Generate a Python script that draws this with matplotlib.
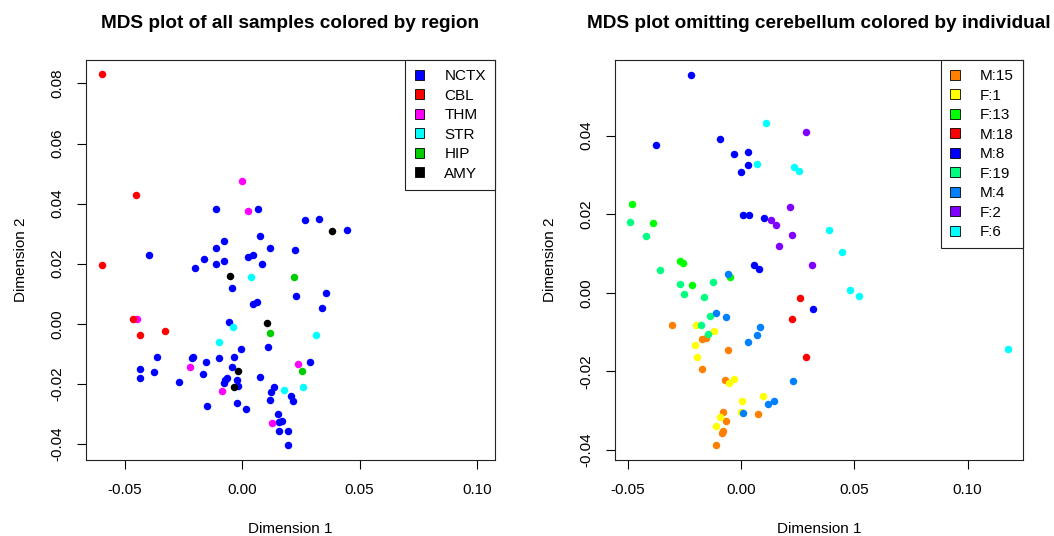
import matplotlib
matplotlib.use("Agg")
import matplotlib.pyplot as plt
from matplotlib.patches import Patch
from matplotlib.ticker import FixedLocator, FormatStrFormatter

plt.rcParams['font.family'] = ['Liberation Sans', 'DejaVu Sans']
plt.rcParams['axes.unicode_minus'] = False

# MDS coordinates (dimension 1, dimension 2), all samples, by brain region
nctx = [(-0.0112, 0.0381), (0.0068, 0.0381), (-0.0078, 0.0277), (0.0075, 0.0293),
        (-0.0112, 0.0253), (0.0119, 0.0251), (0.0225, 0.0247), (-0.0398, 0.0229),
        (-0.0165, 0.0215), (-0.0202, 0.0187), (-0.0111, 0.0198), (-0.0078, 0.0210),
        (0.0023, 0.0222), (0.0044, 0.0230), (0.0083, 0.0199), (0.0266, 0.0344),
        (0.0326, 0.0349), (0.0445, 0.0313), (-0.0045, 0.0119), (0.0228, 0.0092),
        (0.0044, 0.0067), (0.0064, 0.0072), (0.0358, 0.0101), (0.0338, 0.0052),
        (-0.0057, 0.0005), (0.0108, -0.0076), (-0.0004, -0.0083), (0.0289, -0.0127),
        (-0.0364, -0.0110), (-0.0210, -0.0110), (-0.0216, -0.0115), (-0.0156, -0.0126),
        (-0.0101, -0.0115), (-0.0037, -0.0110), (-0.0435, -0.0150), (-0.0435, -0.0182),
        (-0.0375, -0.0159), (-0.0168, -0.0166), (-0.0045, -0.0143), (-0.0269, -0.0193),
        (-0.0066, -0.0180), (-0.0072, -0.0188), (-0.0078, -0.0197), (-0.0023, -0.0188),
        (-0.0017, -0.0206), (0.0075, -0.0176), (0.0135, -0.0209), (0.0122, -0.0228),
        (0.0119, -0.0253), (0.0208, -0.0241), (0.0215, -0.0258), (-0.0149, -0.0273),
        (-0.0024, -0.0265), (0.0016, -0.0285), (0.0151, -0.0299), (0.0158, -0.0327),
        (0.0171, -0.0325), (0.0156, -0.0356), (0.0195, -0.0356), (0.0195, -0.0405)]
cbl = [(-0.0599, 0.0830), (-0.0453, 0.0428), (-0.0599, 0.0197), (-0.0464, 0.0017),
       (-0.0435, -0.0037), (-0.0328, -0.0023)]
thm = [(-0.0003, 0.0474), (0.0023, 0.0375), (-0.0450, 0.0017), (-0.0222, -0.0143),
       (-0.0088, -0.0223), (0.0128, -0.0329), (0.0237, -0.0135)]
stri = [(0.0038, 0.0155), (-0.0038, -0.0011), (-0.0098, -0.0062), (0.0316, -0.0037),
        (0.0178, -0.0219), (0.0260, -0.0211)]
hip = [(0.0222, 0.0155), (0.0117, -0.0030), (0.0253, -0.0157)]
amy = [(0.0384, 0.0308), (-0.0051, 0.0159), (0.0104, 0.0001), (-0.0017, -0.0157),
       (-0.0037, -0.0210)]

region_names = ["NCTX", "CBL", "THM", "STR", "HIP", "AMY"]
region_points = [nctx, cbl, thm, stri, hip, amy]
region_colors = ["#0000FF", "#FF0000", "#FF00FF", "#00FFFF", "#00CD00", "#000000"]
region_order = [0, 2, 3, 4, 5, 1]

# MDS coordinates without cerebellum, by individual
m15 = [(-0.0303, -0.0081), (-0.0171, -0.0118), (-0.0154, -0.0115), (-0.0059, -0.0146),
       (-0.0173, -0.0193), (-0.0072, -0.0223), (0.0076, -0.0308), (-0.0079, -0.0302),
       (-0.0065, -0.0325), (-0.0085, -0.0357), (-0.0078, -0.0352), (-0.0112, -0.0386)]
f1 = [(-0.0199, -0.0083), (-0.0118, -0.0097), (-0.0204, -0.0132), (-0.0196, -0.0163),
      (-0.0052, -0.0229), (-0.0030, -0.0218), (0.0004, -0.0274), (0.0097, -0.0263),
      (-0.0001, -0.0303), (-0.0091, -0.0315), (-0.0109, -0.0339)]
f13 = [(-0.0479, 0.0227), (-0.0387, 0.0177), (-0.0269, 0.0081), (-0.0257, 0.0076),
       (-0.0218, 0.0020), (-0.0049, 0.0041)]
m18 = [(0.0262, -0.0013), (0.0226, -0.0067), (0.0288, -0.0163)]
m8 = [(-0.0222, 0.0555), (-0.0375, 0.0376), (-0.0093, 0.0392), (-0.0032, 0.0353),
      (0.0031, 0.0359), (0.0031, 0.0324), (0.0000, 0.0308), (0.0007, 0.0199),
      (0.0037, 0.0198), (0.0101, 0.0191), (0.0059, 0.0071), (0.0079, 0.0060),
      (0.0319, -0.0041)]
f19 = [(-0.0491, 0.0181), (-0.0420, 0.0145), (-0.0357, 0.0058), (-0.0268, 0.0023),
       (-0.0125, 0.0028), (-0.0250, -0.0003), (-0.0163, -0.0011), (-0.0137, -0.0059),
       (-0.0176, -0.0081), (-0.0146, -0.0105)]
m4 = [(-0.0057, 0.0049), (-0.0112, -0.0052), (-0.0066, -0.0061), (0.0084, -0.0086),
      (0.0072, -0.0108), (0.0031, -0.0125), (0.0228, -0.0224), (0.0120, -0.0282),
      (0.0144, -0.0275), (0.0007, -0.0305)]
f2 = [(0.0285, 0.0409), (0.0134, 0.0185), (0.0156, 0.0173), (0.0215, 0.0217),
      (0.0225, 0.0148), (0.0168, 0.0118), (0.0313, 0.0070)]
f6 = [(0.0110, 0.0431), (0.0072, 0.0328), (0.0235, 0.0320), (0.0256, 0.0311),
      (0.0390, 0.0159), (0.0447, 0.0104), (0.0482, 0.0006), (0.0523, -0.0008),
      (0.1178, -0.0143)]

indiv_names = ["M:15", "F:1", "F:13", "M:18", "M:8", "F:19", "M:4", "F:2", "F:6"]
indiv_points = [m15, f1, f13, m18, m8, f19, m4, f2, f6]
indiv_colors = ["#FF8000", "#FFFF00", "#00FF00", "#FF0000", "#0000FF",
                "#00FF80", "#0080FF", "#8000FF", "#00FFFF"]
indiv_order = list(range(9))

xticks = [-0.05, 0.0, 0.05, 0.10]


def mds_panel(ax, points, names, colors, order, title, xlim, ylim, yticks):
    for i in order:
        xs = [p[0] for p in points[i]]
        ys = [p[1] for p in points[i]]
        ax.plot(xs, ys, 'o', color=colors[i], markersize=5.4,
                markeredgewidth=0, linestyle='none')
    ax.set_xlim(xlim)
    ax.set_ylim(ylim)
    ax.xaxis.set_major_locator(FixedLocator(xticks))
    ax.yaxis.set_major_locator(FixedLocator(yticks))
    ax.xaxis.set_major_formatter(FormatStrFormatter('%.2f'))
    ax.yaxis.set_major_formatter(FormatStrFormatter('%.2f'))
    ax.tick_params(direction='out', length=6.5, width=0.8, labelsize=11,
                   colors='black')
    ax.tick_params(axis='x', pad=10.5)
    ax.tick_params(axis='y', labelrotation=90, pad=9)
    for lab in ax.get_yticklabels():
        lab.set_va('center')
    for sp in ax.spines.values():
        sp.set_linewidth(0.8)
        sp.set_color('#222222')
    ax.set_xlabel("Dimension 1", fontsize=11, labelpad=18)
    ax.set_ylabel("Dimension 2", fontsize=11, labelpad=16)
    ax.set_title(title, fontsize=13.7, fontweight='bold', pad=23)
    handles = [Patch(facecolor=c, edgecolor='black', linewidth=0.6) for c in colors]
    leg = ax.legend(handles, names, loc='upper right', borderaxespad=0,
                    fancybox=False, edgecolor='#222222', framealpha=1,
                    fontsize=11, handlelength=0.65, handleheight=0.65,
                    handletextpad=1.3, borderpad=0.6, labelspacing=0.36)
    leg.get_frame().set_linewidth(0.8)


fig = plt.figure(figsize=(10.54, 5.36), dpi=100)
ax1 = fig.add_axes([0.0816, 0.1427, 0.3880, 0.7453])
ax2 = fig.add_axes([0.5835, 0.1427, 0.3871, 0.7453])

mds_panel(ax1, region_points, region_names, region_colors, region_order,
          "MDS plot of all samples colored by region",
          (-0.0666, 0.1077), (-0.0452, 0.0878),
          [-0.04, -0.02, 0.0, 0.02, 0.04, 0.06, 0.08])
mds_panel(ax2, indiv_points, indiv_names, indiv_colors, indiv_order,
          "MDS plot omitting cerebellum colored by individual",
          (-0.0556, 0.1245), (-0.0424, 0.0592),
          [-0.04, -0.02, 0.0, 0.02, 0.04])

fig.savefig("out.png", dpi=100)
